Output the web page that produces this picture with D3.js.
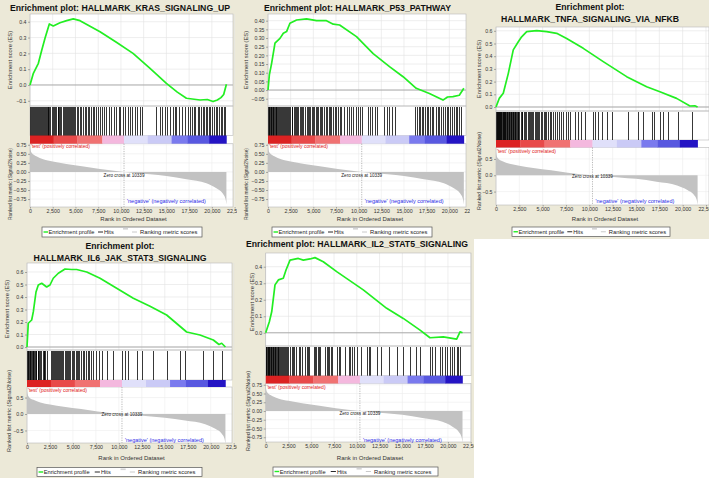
<!DOCTYPE html>
<html><head><meta charset="utf-8">
<script src="https://cdn.jsdelivr.net/npm/d3@7"></script>
<style>body{margin:0;background:#fff}svg{display:block}</style>
</head><body>
<script>
// ---------------- DATA ----------------
const N = 21600;
const zeroCross = 10339;
const rankTicks = [0, 2500, 5000, 7500, 10000, 12500, 15000, 17500, 20000, 22500];

const panelTitles = [
  ["Enrichment plot: HALLMARK_KRAS_SIGNALING_UP"],
  ["Enrichment plot: HALLMARK_P53_PATHWAY"],
  ["Enrichment plot:", "HALLMARK_TNFA_SIGNALING_VIA_NFKB"],
  ["Enrichment plot:", "HALLMARK_IL6_JAK_STAT3_SIGNALING"],
  ["Enrichment plot: HALLMARK_IL2_STAT5_SIGNALING"]
];
const esAxisTitle = "Enrichment score (ES)";
const rankedAxisTitle = "Ranked list metric (Signal2Noise)";
const xAxisTitle = "Rank in Ordered Dataset";
const posLabel = "'test' (positively correlated)";
const negLabel = "'negative' (negatively correlated)";
const zeroCrossLabel = "Zero cross at " + zeroCross;
const legendLabels = ["Enrichment profile", "Hits", "Ranking metric scores"];

const esTicksKras = [-0.1, 0, 0.1, 0.2, 0.3, 0.4];
const esTicksP53 = [-0.05, 0, 0.05, 0.1, 0.15, 0.2, 0.25, 0.3, 0.35, 0.4];
const esTicksTnfa = [0, 0.1, 0.2, 0.3, 0.4, 0.5, 0.6];
const esTicksIl6 = [0, 0.1, 0.2, 0.3, 0.4, 0.5, 0.6];
const esTicksIl2 = [0, 0.1, 0.2, 0.3, 0.4];
const rkTicksFine = [-0.75, -0.5, -0.25, 0, 0.25, 0.5, 0.75];
const rkTicksCoarse = [-0.5, 0, 0.5];

// ranked list metric (same ranked list in all plots)
const metricRanks  = [0, 50, 200, 700, 1450, 2500, 4000, 5900, 7700, 10339, 13200, 15000, 17200, 19400, 20500, 21200, 21500, 21600];
const metricValues = [0.72, 0.62, 0.52, 0.43, 0.35, 0.29, 0.22, 0.15, 0.08, 0, -0.065, -0.11, -0.2, -0.31, -0.45, -0.6, -0.75, -0.9];

// colour bar blocks
const cbBreaks = [0, 2600, 5200, 7950, 10340, 12950, 15570, 17300, 19700, 21600];
const cbColors = ["#dc2222", "#e84a4a", "#f07272", "#f4b8de", "#e0e0fa", "#cacaf6", "#7a7aee", "#5858e0", "#2414c4"];

// KRAS
const krasRanks = [0, 370, 920, 1290, 1650, 2125, 2560, 3300, 4030, 4760, 5500, 7700, 9500, 11330, 13200, 15000, 16200, 17200, 18700, 19500, 20130, 20600, 21000, 21300, 21600];
const krasES    = [0, 0.074, 0.137, 0.22, 0.295, 0.386, 0.373, 0.394, 0.407, 0.418, 0.407, 0.337, 0.27, 0.2, 0.105, 0.01, -0.045, -0.084, -0.095, -0.092, -0.105, -0.095, -0.08, -0.06, 0.005];
const krasHits = [30,120,260,380,450,560,700,820,900,1010,1150,1240,1330,1420,1560,1640,1780,1850,1930,2010,2080,2250,2400,2520,2680,2790,2900,3050,3120,3200,3330,3450,3600,3720,3850,3930,4050,4150,4280,4400,4520,4600,4720,4850,4950,5150,5300,5480,5600,5820,6000,6150,6350,6500,6720,6900,7080,7250,7500,7700,7900,8150,8400,8700,8900,9200,9500,9750,9900,10200,10500,10800,11000,11250,11500,11800,12100,12300,13900,14300,14500,14900,15100,15400,15700,15900,16100,16400,16700,17100,17400,17600,17800,18000,18200,18450,18600,18800,19000,19150,19300,19500,19650,19800,20000,20200,20400,20600,20800,20950,21100,21300,21450];

// P53
const p53Ranks = [0, 150, 400, 770, 1320, 1690, 2050, 2420, 3150, 4250, 5350, 6450, 7200, 7900, 9760, 11600, 13400, 14900, 16350, 17800, 19300, 19800, 20400, 21100, 21600];
const p53ES    = [0, 0.087, 0.154, 0.27, 0.298, 0.327, 0.337, 0.385, 0.404, 0.41, 0.40, 0.40, 0.38, 0.375, 0.308, 0.21, 0.135, 0.077, 0.01, -0.02, -0.058, -0.04, -0.038, -0.03, 0.01];
const p53Hits = [20,90,160,240,300,380,450,520,600,680,750,830,900,980,1100,1200,1300,1380,1500,1620,1750,1900,2000,2150,2250,2350,2480,2600,2700,2850,3000,3100,3200,3350,3500,3600,3750,3900,4100,4250,4400,4500,4650,4800,4950,5100,5250,5350,5500,5700,5850,6000,6200,6350,6500,6700,6850,7000,7200,7400,7550,7700,7900,8100,8400,8700,8900,9200,9400,9700,9950,10200,10400,11000,11200,11500,11800,12000,12800,13100,13400,13700,14000,16200,16400,16600,16800,16950,17100,17300,17500,17700,17900,18100,18250,18500,18700,18900,19100,19300,19500,19700,19900,20100,20300,20500,20700,20900,21100,21300];

// TNFA
const tnfaRanks = [0, 350, 780, 1320, 1850, 2390, 2750, 3290, 4360, 5430, 6500, 7570, 9350, 11490, 14000, 16140, 17560, 19350, 20780, 21300, 21600];
const tnfaES    = [0, 0.068, 0.108, 0.265, 0.45, 0.514, 0.553, 0.593, 0.601, 0.593, 0.58, 0.54, 0.462, 0.357, 0.239, 0.16, 0.12, 0.068, 0.008, 0.01, 0.0];
const tnfaHits = [10,60,120,180,230,290,350,400,460,520,580,640,700,760,820,880,950,1010,1080,1150,1220,1290,1360,1430,1500,1570,1640,1710,1780,1850,1920,2000,2080,2160,2240,2320,2400,2480,2650,2740,2830,3010,3100,3200,3400,3500,3650,3800,3900,4000,4150,4250,4400,4500,4650,4800,4900,5100,5250,5400,5600,5750,5900,6100,6300,6500,6700,6950,7200,7450,7700,7930,8460,8820,9070,9530,10350,10600,10960,11320,11860,12390,14170,15240,15710,16670,16920,17560,17920,18460,19530,21030];

// IL6
const il6Ranks = [0, 140, 510, 690, 980, 1230, 1600, 2140, 2500, 2860, 3410, 4140, 4860, 5410, 6500, 7950, 9760, 11570, 13390, 15200, 17380, 18830, 20280, 20900, 21190, 21600];
const il6ES    = [0, 0.19, 0.216, 0.283, 0.44, 0.496, 0.51, 0.48, 0.496, 0.55, 0.59, 0.624, 0.62, 0.62, 0.60, 0.55, 0.47, 0.39, 0.326, 0.256, 0.12, 0.096, 0.056, 0.02, 0.03, 0.0];
const il6Hits = [20,80,150,220,300,370,440,520,600,680,760,850,930,1000,1150,1250,1350,1450,1550,1700,1800,1900,2000,2150,2600,2700,2800,2900,3000,3150,3250,3400,3500,3600,3750,3850,3950,4100,4200,4350,4500,4600,4700,4850,5000,5150,5300,5400,5550,5700,5900,6050,6200,6400,6600,6800,7000,7200,7500,7800,8130,8670,9400,10300,10670,11030,11940,12480,13750,15200,16650,17200,19190,20280,21190];

// IL2
const il2Ranks = [0, 400, 660, 1020, 1390, 1930, 2230, 2670, 3580, 4130, 4860, 5410, 6320, 7790, 10710, 13280, 15100, 16940, 18030, 19490, 20960, 21330, 21600];
const il2ES    = [0, 0.067, 0.127, 0.29, 0.32, 0.33, 0.38, 0.44, 0.45, 0.44, 0.447, 0.455, 0.43, 0.37, 0.26, 0.148, 0.087, 0.016, -0.03, -0.025, -0.038, 0.006, 0.0];
const il2Hits = [10,70,130,200,260,330,400,460,530,600,680,750,820,900,980,1060,1150,1230,1320,1400,1500,1600,1700,1800,1900,2000,2100,2200,2300,2420,2700,2850,3000,3150,3300,3650,3800,3950,4350,4500,4650,4800,5250,5400,5550,5700,5850,6000,6550,6700,6850,7000,7150,7300,7800,8000,8150,8700,9100,9300,9500,9650,10000,10500,11100,11300,11450,12200,12700,13500,14400,15100,15850,16550,16900,18000,18300,18550,19100,19400,19650,19850,20200,20450,20700,20950,21150,21350];

const panels = [
  {title: panelTitles[0], esR: krasRanks, esV: krasES, hits: krasHits, esTicks: esTicksKras, rkTicks: rkTicksFine},
  {title: panelTitles[1], esR: p53Ranks,  esV: p53ES,  hits: p53Hits,  esTicks: esTicksP53,  rkTicks: rkTicksFine},
  {title: panelTitles[2], esR: tnfaRanks, esV: tnfaES, hits: tnfaHits, esTicks: esTicksTnfa, rkTicks: rkTicksCoarse},
  {title: panelTitles[3], esR: il6Ranks,  esV: il6ES,  hits: il6Hits,  esTicks: esTicksIl6,  rkTicks: rkTicksCoarse},
  {title: panelTitles[4], esR: il2Ranks,  esV: il2ES,  hits: il2Hits,  esTicks: esTicksIl2,  rkTicks: rkTicksFine}
];

// ---------------- LAYOUT ----------------
const layouts = [
  {clip:[0,0,237,239], x0:30, x1:234.6, plotR:233, titleY:[10.5], titleCx:120,
   esTop:14, esBot:106, hitsBot:135.5, cbBot:143.7, rkBot:207,
   esDom:[-0.133,0.449], esFmt:".1f", rkDom:[-0.97,0.78], rkFmt:".2f",
   esLab:[12,60], rkLab:[11.5,184,72], xTitle:[133.5,221], legend:[42,227,160,10],
   testY:148, zcY:176.5, negY:203},
  {clip:[237,0,233,239], x0:268, x1:472, plotR:466, titleY:[10.5], titleCx:357.5,
   esTop:14, esBot:106, hitsBot:135.5, cbBot:143.7, rkBot:207,
   esDom:[-0.092,0.4385], esFmt:".2f", rkDom:[-0.97,0.78], rkFmt:".2f",
   esLab:[247.5,60], rkLab:[247.5,184,72], xTitle:[370,221], legend:[272,227,160,10],
   testY:148, zcY:176.5, negY:203},
  {clip:[470,0,239,239], x0:496, x1:706, plotR:709, titleY:[10,22], titleCx:590,
   esTop:27, esBot:111, hitsBot:140, cbBot:147.5, rkBot:205,
   esDom:[-0.0315,0.63], esFmt:".1f", rkDom:[-0.91,0.85], rkFmt:".1f",
   esLab:[480.5,69], rkLab:[481,171,78], xTitle:[605,221], legend:[512,227,158,9.5],
   testY:152.5, zcY:177.5, negY:202.5},
  {clip:[0,239,237,239], x0:27, x1:233.7, plotR:232, titleY:[248.5,260.5], titleCx:120,
   esTop:263, esBot:350, hitsBot:380, cbBot:387, rkBot:443,
   esDom:[-0.024,0.672], esFmt:".1f", rkDom:[-0.88,0.82], rkFmt:".1f",
   esLab:[9,309], rkLab:[11,411,82], xTitle:[131.5,459.5], legend:[37,467.5,165,9],
   testY:391.5, zcY:416, negY:441.5},
  {clip:[237,239,237,239], x0:265.7, x1:470.7, plotR:471, titleY:[247], titleCx:357,
   esTop:253, esBot:346, hitsBot:375.7, cbBot:383.5, rkBot:442,
   esDom:[-0.08,0.483], esFmt:".1f", rkDom:[-0.886,0.786], rkFmt:".2f",
   esLab:[253.5,302], rkLab:[249.5,411,80], xTitle:[370,460], legend:[273,467,165,9],
   testY:388.5, zcY:415, negY:441.5}
];

// ---------------- DRAW ----------------
const FF = '"Liberation Sans", Arial, Helvetica, sans-serif';
const svg = d3.select("body").append("svg").attr("width", 709).attr("height", 478);
svg.append("rect").attr("width", 709).attr("height", 478).attr("fill", "#ece9d8");
svg.append("rect").attr("x", 474).attr("y", 239).attr("width", 235).attr("height", 239).attr("fill", "#ffffff");
const defs = svg.append("defs");

function styleAxis(a, fs) {
  a.attr("font-size", fs).attr("font-family", FF);
  a.select(".domain").remove();
  a.selectAll("line").attr("stroke", "#777").attr("stroke-width", 0.6);
  a.selectAll("text").attr("fill", "#333");
}

panels.forEach((P, i) => {
  const L = layouts[i];
  defs.append("clipPath").attr("id", "c" + i).append("rect")
    .attr("x", L.clip[0]).attr("y", L.clip[1]).attr("width", L.clip[2]).attr("height", L.clip[3]);
  const g = svg.append("g").attr("clip-path", `url(#c${i})`).attr("font-family", FF);

  const x = d3.scaleLinear().domain([0, 22500]).range([L.x0, L.x1]);
  const yE = d3.scaleLinear().domain(L.esDom).range([L.esBot, L.esTop]);
  const yR = d3.scaleLinear().domain(L.rkDom).range([L.rkBot, L.cbBot]);
  const pw = L.plotR - L.x0;

  // white plot background
  g.append("rect").attr("x", L.x0).attr("y", L.esTop).attr("width", pw)
    .attr("height", L.rkBot - L.esTop).attr("fill", "#fff");

  // grids
  const grid = g.append("g").attr("stroke", "#e2e2e2").attr("stroke-width", 0.6);
  grid.selectAll(null).data(rankTicks).enter().append("line")
    .attr("x1", d => x(d)).attr("x2", d => x(d)).attr("y1", L.esTop).attr("y2", L.esBot);
  grid.selectAll(null).data(P.esTicks).enter().append("line")
    .attr("x1", L.x0).attr("x2", L.plotR).attr("y1", d => yE(d)).attr("y2", d => yE(d));
  const grid2 = g.append("g").attr("stroke", "#ececec").attr("stroke-width", 0.6);
  grid2.selectAll(null).data(rankTicks).enter().append("line")
    .attr("x1", d => x(d)).attr("x2", d => x(d)).attr("y1", L.cbBot).attr("y2", L.rkBot);
  grid2.selectAll(null).data(P.rkTicks).enter().append("line")
    .attr("x1", L.x0).attr("x2", L.plotR).attr("y1", d => yR(d)).attr("y2", d => yR(d));

  // ES zero line
  g.append("line").attr("x1", L.x0).attr("x2", L.plotR).attr("y1", yE(0)).attr("y2", yE(0))
    .attr("stroke", "#9a9a9a").attr("stroke-width", 0.8);

  // borders
  const bord = g.append("g").attr("fill", "none").attr("stroke", "#b8b8b8").attr("stroke-width", 0.6);
  bord.append("rect").attr("x", L.x0).attr("y", L.esTop).attr("width", pw).attr("height", L.esBot - L.esTop);
  bord.append("rect").attr("x", L.x0).attr("y", L.esBot).attr("width", pw).attr("height", L.hitsBot - L.esBot);
  bord.append("rect").attr("x", L.x0).attr("y", L.cbBot).attr("width", pw).attr("height", L.rkBot - L.cbBot);

  // hits
  g.append("g").attr("stroke", "#000").attr("stroke-width", 1).attr("stroke-opacity", 0.78)
    .attr("shape-rendering", "crispEdges")
    .selectAll(null).data(P.hits).enter().append("line")
    .attr("x1", d => Math.round(x(d)) + 0.5).attr("x2", d => Math.round(x(d)) + 0.5)
    .attr("y1", L.esBot + 1).attr("y2", L.hitsBot);

  // colour bar
  g.append("g").selectAll(null).data(cbColors).enter().append("rect")
    .attr("x", (d, k) => x(cbBreaks[k])).attr("width", (d, k) => x(cbBreaks[k + 1]) - x(cbBreaks[k]) + 0.3)
    .attr("y", L.hitsBot).attr("height", L.cbBot - L.hitsBot).attr("fill", d => d);

  // ranked metric area
  const mdata = d3.zip(metricRanks, metricValues);
  g.append("path").datum(mdata)
    .attr("d", d3.area().x(d => x(d[0])).y0(yR(0)).y1(d => yR(d[1])).curve(d3.curveMonotoneX))
    .attr("fill", "#c2c2c2");

  // zero cross dotted line
  g.append("line").attr("x1", x(zeroCross)).attr("x2", x(zeroCross)).attr("y1", L.cbBot).attr("y2", L.rkBot)
    .attr("stroke", "#8a8a8a").attr("stroke-width", 0.6).attr("stroke-dasharray", "1.2,1.2");

  // ES curve
  g.append("path").datum(d3.zip(P.esR, P.esV))
    .attr("d", d3.line().x(d => x(d[0])).y(d => yE(d[1])))
    .attr("fill", "none").attr("stroke", "#22ee22").attr("stroke-width", 1.7).attr("stroke-linejoin", "round");

  // axes
  const ay = g.append("g").attr("transform", `translate(${L.x0},0)`)
    .call(d3.axisLeft(yE).tickValues(P.esTicks).tickFormat(d3.format(L.esFmt)).tickSize(2).tickPadding(1.5));
  styleAxis(ay, 5.2);
  const ar = g.append("g").attr("transform", `translate(${L.x0},0)`)
    .call(d3.axisLeft(yR).tickValues(P.rkTicks).tickFormat(d3.format(L.rkFmt)).tickSize(2).tickPadding(1.5));
  styleAxis(ar, 5.2);
  const ax = g.append("g").attr("transform", `translate(0,${L.rkBot})`)
    .call(d3.axisBottom(x).tickValues(rankTicks).tickFormat(d3.format(",")).tickSize(1.5).tickPadding(1));
  styleAxis(ax, 5.3);

  // titles
  P.title.forEach((t, j) => {
    g.append("text").attr("x", L.titleCx).attr("y", L.titleY[j]).attr("text-anchor", "middle")
      .attr("font-size", 8.7).attr("font-weight", "bold").attr("fill", "#111").text(t);
  });

  // axis titles
  g.append("text").attr("transform", `translate(${L.esLab[0]},${L.esLab[1]}) rotate(-90)`)
    .attr("text-anchor", "middle").attr("font-size", 5.8).attr("fill", "#333").text(esAxisTitle);
  g.append("text").attr("transform", `translate(${L.rkLab[0]},${L.rkLab[1]}) rotate(-90)`)
    .attr("text-anchor", "middle").attr("font-size", 5.4).attr("fill", "#333")
    .attr("textLength", L.rkLab[2]).attr("lengthAdjust", "spacingAndGlyphs").text(rankedAxisTitle);
  g.append("text").attr("x", L.xTitle[0]).attr("y", L.xTitle[1]).attr("text-anchor", "middle")
    .attr("font-size", 6).attr("fill", "#333").text(xAxisTitle);

  // annotations
  g.append("text").attr("x", L.x0 + 1).attr("y", L.testY).attr("font-size", 5)
    .attr("fill", "#e01818").text(posLabel);
  g.append("text").attr("x", x(zeroCross)).attr("y", L.zcY).attr("text-anchor", "middle")
    .attr("font-size", 4.6).attr("fill", "#222").text(zeroCrossLabel);
  g.append("text").attr("x", x(zeroCross) + 3).attr("y", L.negY).attr("font-size", 5.5)
    .attr("fill", "#2a2ae6").text(negLabel);

  // legend
  const [lx, ly, lw, lh] = L.legend;
  const s = lw / 160, my = ly + lh / 2;
  const lg = g.append("g");
  lg.append("rect").attr("x", lx).attr("y", ly).attr("width", lw).attr("height", lh)
    .attr("fill", "#fff").attr("stroke", "#555").attr("stroke-width", 0.7);
  lg.append("line").attr("x1", lx + 1.5 * s).attr("x2", lx + 6 * s).attr("y1", my).attr("y2", my)
    .attr("stroke", "#22ee22").attr("stroke-width", 1.4);
  lg.append("text").attr("x", lx + 6.5 * s).attr("y", my + 2).attr("font-size", 5.7).attr("fill", "#222").text(legendLabels[0]);
  lg.append("line").attr("x1", lx + 56 * s).attr("x2", lx + 61 * s).attr("y1", my).attr("y2", my)
    .attr("stroke", "#111").attr("stroke-width", 0.9);
  lg.append("text").attr("x", lx + 62 * s).attr("y", my + 2).attr("font-size", 5.7).attr("fill", "#222").text(legendLabels[1]);
  lg.append("rect").attr("x", lx + 81 * s).attr("y", ly + 1).attr("width", 5 * s).attr("height", 1.6).attr("fill", "#d4d4d4");
  lg.append("line").attr("x1", lx + 90 * s).attr("x2", lx + 95 * s).attr("y1", my).attr("y2", my)
    .attr("stroke", "#c4c4c4").attr("stroke-width", 0.9);
  lg.append("text").attr("x", lx + 98 * s).attr("y", my + 2).attr("font-size", 5.8).attr("fill", "#222").text(legendLabels[2]);
});
</script>
</body></html>
